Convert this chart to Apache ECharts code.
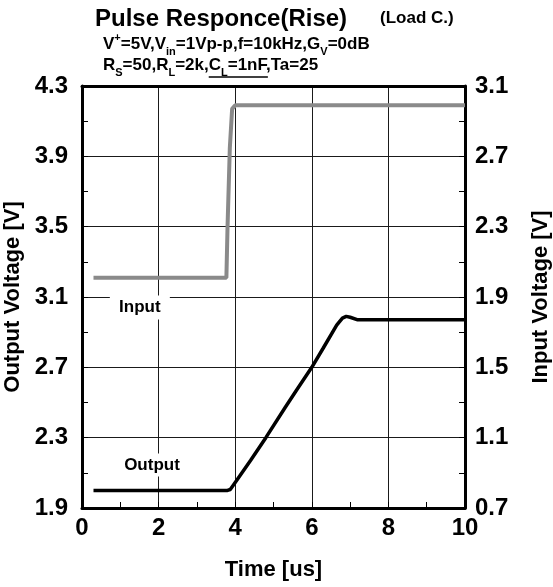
<!DOCTYPE html>
<html>
<head>
<meta charset="utf-8">
<script src="https://cdn.jsdelivr.net/npm/echarts@6/dist/echarts.min.js"></script>
<style>
  html, body { margin: 0; padding: 0; background: #fff; }
  #chart { width: 553px; height: 587px; }
</style>
</head>
<body>
<div id="chart"></div>
<script>
// values
var inputTime = [0.3, 3.77, 3.8, 3.86, 3.92, 4.0, 10];
var inputVolt = [2.01, 2.01, 2.3, 2.75, 2.97, 2.99, 2.99];

var outputTime = [0.3, 3.8, 3.87, 3.95, 4.4, 4.8, 5.3, 5.6, 6.0, 6.3, 6.65, 6.8, 6.9, 7.0, 7.2, 10];
var outputVolt = [2.0, 2.0, 2.005, 2.03, 2.17, 2.3, 2.47, 2.57, 2.7, 2.81, 2.94, 2.98, 2.99, 2.985, 2.97, 2.97];

var timeTicks = { min: 0, max: 10, step: 2 };
var outTicks = { min: 1.9, max: 4.3, step: 0.4 };
var inTicks = { min: 0.7, max: 3.1, step: 0.4 };

var labelInput = { text: 'Input', at: [1.51, 1.84] };

function pairs(xs, ys) {
  return xs.map(function (x, i) { return [x, ys[i]]; });
}

var FONT = '"Liberation Sans", Arial, sans-serif';

// where the underline under "CL=1nF" goes
var ctx = document.createElement('canvas').getContext('2d');
function textW(t, size) {
  ctx.font = 'bold ' + size + 'px ' + FONT;
  return ctx.measureText(t).width;
}
var ulStart = 103 + textW('R', 17) + textW('S', 11) + textW('=50,R', 17) + textW('L', 11) + textW('=2k,', 17);
var ulEnd = ulStart + textW('C', 17) + textW('L', 11) + textW('=1nF', 17);

var chartDom = document.getElementById('chart');
var myChart = echarts.init(chartDom);

function axisLine() { return { show: true, onZero: false, lineStyle: { color: '#000', width: 3 } }; }
function axisTick() { return { show: true, inside: true, length: 6, lineStyle: { color: '#000', width: 1 } }; }
function minorTick() { return { show: true, splitNumber: 2, length: 6, lineStyle: { color: '#000', width: 1 } }; }
function gridLine() { return { show: true, lineStyle: { color: '#1a1a1a', width: 1 } }; }
function nameStyle() { return { color: '#000', fontWeight: 'bold', fontSize: 22, fontFamily: FONT }; }
function tickLabel(margin, digits) {
  return {
    color: '#000', fontWeight: 'bold', fontSize: 24, fontFamily: FONT, margin: margin,
    formatter: function (v) { return v.toFixed(digits); }
  };
}

var option = {
  animation: false,
  grid: { left: 82, right: 88, top: 86, bottom: 79, outerBoundsMode: 'none' },
  graphic: [
    {
      type: 'text', left: 95, top: 7,
      style: { text: 'Pulse Responce(Rise)', font: 'bold 24px ' + FONT, fill: '#000' }
    },
    {
      type: 'text', left: 380, top: 10,
      style: { text: '(Load C.)', font: 'bold 17px ' + FONT, fill: '#000' }
    },
    {
      type: 'text', left: 103, top: 32,
      style: {
        text: 'V{sup|+}=5V,V{sub|in}=1Vp-p,f=10kHz,G{sub|V}=0dB',
        font: 'bold 17px ' + FONT, fill: '#000', lineHeight: 20,
        rich: {
          sup: { fontSize: 11, fontWeight: 'bold', fontFamily: FONT, verticalAlign: 'top', lineHeight: 20, padding: [-2, 0, 0, 0] },
          sub: { fontSize: 11, fontWeight: 'bold', fontFamily: FONT, verticalAlign: 'bottom', lineHeight: 20, padding: [0, 0, -3, 0] }
        }
      }
    },
    {
      type: 'text', left: 103, top: 55,
      style: {
        text: 'R{sub|S}=50,R{sub|L}=2k,C{sub|L}=1nF,Ta=25',
        font: 'bold 17px ' + FONT, fill: '#000', lineHeight: 20,
        rich: {
          sub: { fontSize: 11, fontWeight: 'bold', fontFamily: FONT, verticalAlign: 'bottom', lineHeight: 20, padding: [0, 0, -3, 0] }
        }
      }
    },
    {
      type: 'line',
      shape: { x1: ulStart, y1: 77, x2: ulEnd, y2: 77 },
      style: { stroke: '#000', lineWidth: 1.5 }
    },
    {
      // trace label for the output curve
      type: 'text', x: 152, y: 465, z: 50,
      style: {
        text: 'Output', font: 'bold 17px ' + FONT, fill: '#000',
        align: 'center', verticalAlign: 'middle',
        backgroundColor: '#fff', padding: [3, 5]
      }
    }
  ],
  xAxis: [
    {
      type: 'value',
      position: 'bottom',
      min: timeTicks.min, max: timeTicks.max, interval: timeTicks.step,
      name: 'Time [us]',
      nameLocation: 'middle',
      nameGap: 51,
      nameTextStyle: nameStyle(),
      axisLine: axisLine(),
      axisTick: axisTick(),
      minorTick: minorTick(),
      axisLabel: tickLabel(8, 0),
      splitLine: gridLine()
    },
    {
      // top edge of the frame
      type: 'value',
      position: 'top',
      min: timeTicks.min, max: timeTicks.max, interval: timeTicks.step,
      axisLine: axisLine(),
      axisTick: { show: false },
      axisLabel: { show: false },
      splitLine: { show: false }
    }
  ],
  yAxis: [
    {
      type: 'value',
      position: 'left',
      min: outTicks.min, max: outTicks.max, interval: outTicks.step,
      name: 'Output Voltage [V]',
      nameLocation: 'middle',
      nameGap: 50,
      nameTextStyle: nameStyle(),
      axisLine: axisLine(),
      axisTick: axisTick(),
      minorTick: minorTick(),
      axisLabel: tickLabel(14, 1),
      splitLine: gridLine()
    },
    {
      type: 'value',
      position: 'right',
      min: inTicks.min, max: inTicks.max, interval: inTicks.step,
      name: 'Input Voltage [V]',
      nameLocation: 'middle',
      nameGap: 65,
      nameTextStyle: nameStyle(),
      axisLine: axisLine(),
      axisTick: axisTick(),
      minorTick: minorTick(),
      axisLabel: tickLabel(10, 1),
      splitLine: { show: false }
    }
  ],
  series: [
    {
      name: 'Input',
      type: 'line',
      yAxisIndex: 1,
      data: pairs(inputTime, inputVolt),
      showSymbol: false,
      symbol: 'none',
      lineStyle: { color: '#8a8a8a', width: 4 },
      markPoint: {
        symbol: 'rect',
        symbolSize: [60, 24],
        itemStyle: { color: '#fff' },
        label: {
          show: true, position: 'inside', color: '#000',
          fontWeight: 'bold', fontSize: 17, fontFamily: FONT,
          formatter: labelInput.text
        },
        data: [{ coord: labelInput.at }]
      }
    },
    {
      name: 'Output',
      type: 'line',
      yAxisIndex: 0,
      data: pairs(outputTime, outputVolt),
      showSymbol: false,
      symbol: 'none',
      lineStyle: { color: '#000', width: 3.5 }
    }
  ]
};

myChart.setOption(option);
</script>
</body>
</html>
